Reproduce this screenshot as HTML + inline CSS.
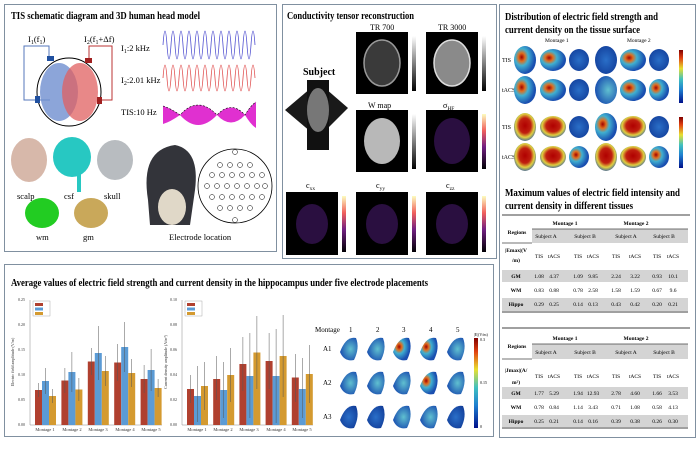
<!DOCTYPE html>
<html><head><meta charset="utf-8"><style>
html,body{margin:0;padding:0;background:#fff;width:700px;height:467px;overflow:hidden}
svg{display:block;font-family:"Liberation Serif",serif}
</style></head><body>
<svg width="700" height="467" viewBox="0 0 700 467" xmlns="http://www.w3.org/2000/svg">
<defs>
<linearGradient id="jet" x1="0" y1="1" x2="0" y2="0">
<stop offset="0" stop-color="#00108a"/><stop offset="0.25" stop-color="#1e7fd0"/><stop offset="0.45" stop-color="#40c0c0"/><stop offset="0.65" stop-color="#e8e030"/><stop offset="0.85" stop-color="#e04010"/><stop offset="1" stop-color="#800000"/></linearGradient>
<linearGradient id="gray" x1="0" y1="1" x2="0" y2="0"><stop offset="0" stop-color="#000"/><stop offset="1" stop-color="#fff"/></linearGradient>
<linearGradient id="mag" x1="0" y1="1" x2="0" y2="0"><stop offset="0" stop-color="#000004"/><stop offset="0.4" stop-color="#721f81"/><stop offset="0.7" stop-color="#f1605d"/><stop offset="1" stop-color="#fcfdbf"/></linearGradient>
<radialGradient id="brainB" cx="0.5" cy="0.5" r="0.6"><stop offset="0" stop-color="#2a6fc8"/><stop offset="1" stop-color="#123e9a"/></radialGradient>
<radialGradient id="hot" cx="0.35" cy="0.4" r="0.6"><stop offset="0" stop-color="#a00000"/><stop offset="0.25" stop-color="#e07020"/><stop offset="0.5" stop-color="#40b0d0"/><stop offset="1" stop-color="#1a4fb0"/></radialGradient>
<radialGradient id="hot2" cx="0.5" cy="0.45" r="0.6"><stop offset="0" stop-color="#b00000"/><stop offset="0.45" stop-color="#c02010"/><stop offset="0.7" stop-color="#e0d040"/><stop offset="1" stop-color="#2050b0"/></radialGradient>
<radialGradient id="hip" cx="0.6" cy="0.5" r="0.6"><stop offset="0" stop-color="#60c0d0"/><stop offset="1" stop-color="#1a50b0"/></radialGradient>
</defs>

<!-- Panel A -->
<rect x="4.5" y="4.5" width="272" height="247" fill="#fff" stroke="#8090a0" stroke-width="1"/>
<text x="11" y="19" font-size="10" font-weight="bold" textLength="189" lengthAdjust="spacingAndGlyphs">TIS schematic diagram and 3D human head model</text>
<polyline points="50,100 24,100 24,46 49,46 49,58" fill="none" stroke="#5577bb" stroke-width="1"/>
<polyline points="89,60 89,46 112,46 112,100 100,100" fill="none" stroke="#bb3333" stroke-width="1"/>
<text x="28" y="42" font-size="8.5">I<tspan font-size="6" dy="2">1</tspan><tspan dy="-2">(f</tspan><tspan font-size="6" dy="2">1</tspan><tspan dy="-2">)</tspan></text>
<text x="84" y="42" font-size="8.5">I<tspan font-size="6" dy="2">2</tspan><tspan dy="-2">(f</tspan><tspan font-size="6" dy="2">1</tspan><tspan dy="-2">+Δf)</tspan></text>
<ellipse cx="69" cy="92" rx="32" ry="34" fill="none" stroke="#000" stroke-width="1"/>
<ellipse cx="59" cy="92" rx="19" ry="29" fill="#6f8fd0" opacity="0.8"/>
<ellipse cx="80" cy="92" rx="18" ry="29" fill="#e06060" opacity="0.75"/>
<rect x="47" y="56" width="7" height="5" fill="#2050a0"/><rect x="35" y="96" width="5" height="7" fill="#2050a0"/>
<rect x="85" y="58" width="7" height="5" fill="#a02020"/><rect x="97" y="97" width="5" height="7" fill="#a02020"/>
<text x="121" y="51" font-size="8.5">I<tspan font-size="6" dy="2">1</tspan><tspan dy="-2">:2 kHz</tspan></text>
<text x="121" y="83" font-size="8.5">I<tspan font-size="6" dy="2">2</tspan><tspan dy="-2">:2.01 kHz</tspan></text>
<text x="121" y="115" font-size="8.5">TIS:10 Hz</text>
<path d="M163,45 q2,-28 4,0 t4,0 t4,0 t4,0 t4,0 t4,0 t4,0 t4,0 t4,0 t4,0 t4,0 t4,0 t4,0 t4,0 t4,0 t4,0 t4,0 t4,0 t4,0 t4,0 t4,0 t4,0 t4,0" fill="none" stroke="#5050d0" stroke-width="0.8"/>
<path d="M163,78 q2,-26 4,0 t4,0 t4,0 t4,0 t4,0 t4,0 t4,0 t4,0 t4,0 t4,0 t4,0 t4,0 t4,0 t4,0 t4,0 t4,0 t4,0 t4,0 t4,0 t4,0 t4,0 t4,0 t4,0" fill="none" stroke="#e05050" stroke-width="0.8"/>
<g fill="#e030d0">
<path d="M163,106 Q170,108 180,115 Q170,122 163,124 Z"/>
<path d="M180,115 Q198,95 217,115 Q198,135 180,115 Z"/>
<path d="M217,115 Q231,100 245,115 Q231,130 217,115 Z"/>
<path d="M245,115 Q251,105 256,102 L256,128 Q251,125 245,115 Z"/>
</g>
<path d="M163,106 Q170,108 180,115 Q198,95 217,115 Q231,100 245,115 Q251,105 256,102" fill="none" stroke="#000" stroke-dasharray="2,1.5" stroke-width="0.6"/>
<!-- head models -->
<ellipse cx="29" cy="160" rx="18" ry="22" fill="#d7b8aa"/>
<ellipse cx="72" cy="157" rx="19" ry="20" fill="#27c8c2"/><rect x="77" y="170" width="4" height="22" fill="#27c8c2"/>
<ellipse cx="115" cy="160" rx="18" ry="20" fill="#b8bcc0"/>
<text x="17" y="199" font-size="8.5">scalp</text><text x="64" y="199" font-size="8.5">csf</text><text x="104" y="199" font-size="8.5">skull</text>
<ellipse cx="42" cy="213" rx="17" ry="15" fill="#22cc22"/>
<ellipse cx="91" cy="213" rx="17" ry="15" fill="#c9a85a"/>
<text x="36" y="240" font-size="8.5">wm</text><text x="83" y="240" font-size="8.5">gm</text>
<path d="M148,200 Q140,150 175,145 Q200,150 195,190 L190,225 L150,225 Z" fill="#33343a"/>
<ellipse cx="172" cy="207" rx="14" ry="18" fill="#e0d8c8"/>
<circle cx="235" cy="186" r="37" fill="none" stroke="#000" stroke-width="0.8"/>
<g fill="none" stroke="#000" stroke-width="0.5">
<circle cx="220" cy="165" r="2.5"/><circle cx="230" cy="165" r="2.5"/><circle cx="240" cy="165" r="2.5"/><circle cx="250" cy="165" r="2.5"/>
<circle cx="212" cy="175" r="2.5"/><circle cx="222" cy="175" r="2.5"/><circle cx="232" cy="175" r="2.5"/><circle cx="242" cy="175" r="2.5"/><circle cx="252" cy="175" r="2.5"/><circle cx="262" cy="175" r="2.5"/>
<circle cx="207" cy="186" r="2.5"/><circle cx="217" cy="186" r="2.5"/><circle cx="227" cy="186" r="2.5"/><circle cx="237" cy="186" r="2.5"/><circle cx="247" cy="186" r="2.5"/><circle cx="257" cy="186" r="2.5"/><circle cx="265" cy="186" r="2.5"/>
<circle cx="212" cy="197" r="2.5"/><circle cx="222" cy="197" r="2.5"/><circle cx="232" cy="197" r="2.5"/><circle cx="242" cy="197" r="2.5"/><circle cx="252" cy="197" r="2.5"/><circle cx="262" cy="197" r="2.5"/>
<circle cx="220" cy="208" r="2.5"/><circle cx="230" cy="208" r="2.5"/><circle cx="240" cy="208" r="2.5"/><circle cx="250" cy="208" r="2.5"/>
<circle cx="235" cy="152" r="2.5"/><circle cx="235" cy="220" r="2.5"/>
</g>
<text x="169" y="240" font-size="8.5">Electrode location</text>

<!-- Panel B -->
<rect x="282.5" y="4.5" width="214" height="254" fill="#fff" stroke="#8090a0" stroke-width="1"/>
<text x="287" y="19" font-size="10" font-weight="bold" textLength="127" lengthAdjust="spacingAndGlyphs">Conductivity tensor reconstruction</text>
<text x="370" y="30" font-size="8">TR 700</text><text x="438" y="30" font-size="8">TR 3000</text>
<rect x="356" y="32" width="52" height="62" fill="#000"/><ellipse cx="382" cy="63" rx="18" ry="23" fill="#3a3a3a" stroke="#999" stroke-width="1.5"/>
<rect x="426" y="32" width="52" height="62" fill="#000"/><ellipse cx="452" cy="63" rx="18" ry="23" fill="#8a8a8a" stroke="#ddd" stroke-width="1.5"/>
<rect x="412" y="36" width="4" height="55" fill="url(#gray)"/><rect x="482" y="36" width="4" height="55" fill="url(#gray)"/>
<text x="303" y="75" font-size="10" font-weight="bold">Subject</text>
<polygon points="285,110 318,82 348,108 318,138" fill="#1a1a1a"/>
<rect x="307" y="80" width="22" height="70" fill="#111"/>
<ellipse cx="318" cy="110" rx="11" ry="22" fill="#777"/>
<text x="368" y="108" font-size="8">W map</text><text x="443" y="108" font-size="8">σ<tspan font-size="5.5" dy="2">HF</tspan></text>
<rect x="356" y="110" width="52" height="62" fill="#000"/><ellipse cx="382" cy="141" rx="18" ry="23" fill="#b8b8b8"/>
<rect x="426" y="110" width="52" height="62" fill="#000"/><ellipse cx="452" cy="141" rx="18" ry="23" fill="#2a0f40"/>
<rect x="412" y="114" width="4" height="55" fill="url(#gray)"/><rect x="482" y="114" width="4" height="55" fill="url(#mag)"/>
<text x="306" y="188" font-size="8">c<tspan font-size="5.5" dy="2">xx</tspan></text><text x="376" y="188" font-size="8">c<tspan font-size="5.5" dy="2">yy</tspan></text><text x="446" y="188" font-size="8">c<tspan font-size="5.5" dy="2">zz</tspan></text>
<rect x="286" y="192" width="52" height="63" fill="#000"/><ellipse cx="312" cy="224" rx="16" ry="20" fill="#2a0f40"/>
<rect x="356" y="192" width="52" height="63" fill="#000"/><ellipse cx="382" cy="224" rx="16" ry="20" fill="#2a0f40"/>
<rect x="426" y="192" width="52" height="63" fill="#000"/><ellipse cx="452" cy="224" rx="16" ry="20" fill="#2a0f40"/>
<rect x="342" y="196" width="4" height="56" fill="url(#mag)"/><rect x="412" y="196" width="4" height="56" fill="url(#mag)"/><rect x="482" y="196" width="4" height="56" fill="url(#mag)"/>

<!-- Panel C -->
<rect x="499.5" y="4.5" width="196" height="433" fill="#fff" stroke="#8090a0" stroke-width="1"/>
<text x="505" y="20" font-size="10" font-weight="bold" textLength="153" lengthAdjust="spacingAndGlyphs">Distribution of electric field strength and</text>
<text x="505" y="33" font-size="10" font-weight="bold" textLength="135" lengthAdjust="spacingAndGlyphs">current density on the tissue surface</text>
<text x="545" y="42" font-size="5.5">Montage 1</text><text x="627" y="42" font-size="5.5">Montage 2</text>
<text x="502" y="62" font-size="6">TIS</text><text x="502" y="92" font-size="6">tACS</text><text x="502" y="129" font-size="6">TIS</text><text x="502" y="159" font-size="6">tACS</text>
<g>
<ellipse cx="525" cy="60" rx="11" ry="14" fill="url(#hot)"/><ellipse cx="553" cy="60" rx="13" ry="11" fill="url(#hot)"/><ellipse cx="579" cy="60" rx="10" ry="11" fill="url(#brainB)"/><ellipse cx="606" cy="60" rx="11" ry="14" fill="url(#brainB)"/><ellipse cx="633" cy="60" rx="13" ry="11" fill="url(#hot)"/><ellipse cx="659" cy="60" rx="10" ry="11" fill="url(#brainB)"/>
<ellipse cx="525" cy="90" rx="11" ry="14" fill="url(#hot)"/><ellipse cx="553" cy="90" rx="13" ry="11" fill="url(#hot)"/><ellipse cx="579" cy="90" rx="10" ry="11" fill="url(#brainB)"/><ellipse cx="606" cy="90" rx="11" ry="14" fill="url(#hip)"/><ellipse cx="633" cy="90" rx="13" ry="11" fill="url(#hot)"/><ellipse cx="659" cy="90" rx="10" ry="11" fill="url(#hot)"/>
<ellipse cx="525" cy="127" rx="11" ry="14" fill="url(#hot2)"/><ellipse cx="553" cy="127" rx="13" ry="11" fill="url(#hot2)"/><ellipse cx="579" cy="127" rx="10" ry="11" fill="url(#brainB)"/><ellipse cx="606" cy="127" rx="11" ry="14" fill="url(#hot)"/><ellipse cx="633" cy="127" rx="13" ry="11" fill="url(#hot2)"/><ellipse cx="659" cy="127" rx="10" ry="11" fill="url(#brainB)"/>
<ellipse cx="525" cy="157" rx="11" ry="14" fill="url(#hot2)"/><ellipse cx="553" cy="157" rx="13" ry="11" fill="url(#hot2)"/><ellipse cx="579" cy="157" rx="10" ry="11" fill="url(#hot)"/><ellipse cx="606" cy="157" rx="11" ry="14" fill="url(#hot2)"/><ellipse cx="633" cy="157" rx="13" ry="11" fill="url(#hot2)"/><ellipse cx="659" cy="157" rx="10" ry="11" fill="url(#hot)"/>
</g>
<rect x="679" y="50" width="4" height="53" fill="url(#jet)"/><rect x="679" y="117" width="4" height="51" fill="url(#jet)"/>
<text x="505" y="196" font-size="10" font-weight="bold" textLength="175" lengthAdjust="spacingAndGlyphs">Maximum values of electric field intensity and</text>
<text x="505" y="209" font-size="10" font-weight="bold" textLength="128" lengthAdjust="spacingAndGlyphs">current density in different tissues</text>
<g font-size="5.5" text-anchor="middle">
<line x1="502" y1="215" x2="690" y2="215" stroke="#000" stroke-width="0.8"/>
<text x="565" y="225" font-weight="bold">Montage 1</text><text x="636" y="225" font-weight="bold">Montage 2</text>
<text x="517" y="234" font-weight="bold">Regions</text>
<rect x="532" y="229" width="156" height="14" fill="#d4d4d4"/><line x1="532" y1="229" x2="688" y2="229" stroke="#444" stroke-width="0.8"/><line x1="502" y1="243" x2="532" y2="243" stroke="#444" stroke-width="0.8"/>
<text x="546" y="238">Subject A</text><text x="585" y="238">Subject B</text><text x="626" y="238">Subject A</text><text x="664" y="238">Subject B</text>
<text x="516" y="252" font-weight="bold">|Emax|(V</text><text x="516" y="262" font-weight="bold">/m)</text>
<g><text x="539" y="258">TIS</text><text x="554" y="258">tACS</text><text x="578" y="258">TIS</text><text x="593" y="258">tACS</text><text x="616" y="258">TIS</text><text x="635" y="258">tACS</text><text x="657" y="258">TIS</text><text x="673" y="258">tACS</text></g>
<rect x="502" y="270" width="186" height="12" fill="#d4d4d4"/>
<text x="516" y="278" font-weight="bold">GM</text><text x="539" y="278">1.08</text><text x="554" y="278">4.37</text><text x="578" y="278">1.09</text><text x="593" y="278">9.85</text><text x="616" y="278">2.24</text><text x="635" y="278">3.22</text><text x="657" y="278">0.93</text><text x="673" y="278">10.1</text>
<text x="516" y="292" font-weight="bold">WM</text><text x="539" y="292">0.83</text><text x="554" y="292">0.88</text><text x="578" y="292">0.78</text><text x="593" y="292">2.58</text><text x="616" y="292">1.58</text><text x="635" y="292">1.59</text><text x="657" y="292">0.67</text><text x="673" y="292">9.6</text>
<rect x="502" y="298" width="186" height="13" fill="#d4d4d4"/>
<text x="516" y="306" font-weight="bold">Hippo</text><text x="539" y="306">0.29</text><text x="554" y="306">0.25</text><text x="578" y="306">0.14</text><text x="593" y="306">0.13</text><text x="616" y="306">0.43</text><text x="635" y="306">0.42</text><text x="657" y="306">0.20</text><text x="673" y="306">0.21</text>
<line x1="502" y1="312" x2="688" y2="312" stroke="#000" stroke-width="0.8"/>

<line x1="502" y1="328" x2="690" y2="328" stroke="#000" stroke-width="0.8"/>
<text x="565" y="340" font-weight="bold">Montage 1</text><text x="636" y="340" font-weight="bold">Montage 2</text>
<text x="517" y="348" font-weight="bold">Regions</text>
<rect x="532" y="344" width="156" height="15" fill="#d4d4d4"/><line x1="532" y1="344" x2="688" y2="344" stroke="#444" stroke-width="0.8"/><line x1="502" y1="359" x2="532" y2="359" stroke="#444" stroke-width="0.8"/>
<text x="546" y="354">Subject A</text><text x="585" y="354">Subject B</text><text x="626" y="354">Subject A</text><text x="664" y="354">Subject B</text>
<text x="516" y="372" font-weight="bold">|Jmax|(A/</text><text x="516" y="384" font-weight="bold">m²)</text>
<g><text x="539" y="378">TIS</text><text x="554" y="378">tACS</text><text x="578" y="378">TIS</text><text x="593" y="378">tACS</text><text x="616" y="378">TIS</text><text x="635" y="378">tACS</text><text x="657" y="378">TIS</text><text x="673" y="378">tACS</text></g>
<rect x="502" y="387" width="186" height="12" fill="#d4d4d4"/>
<text x="516" y="395" font-weight="bold">GM</text><text x="539" y="395">1.77</text><text x="554" y="395">5.29</text><text x="578" y="395">1.94</text><text x="593" y="395">12.93</text><text x="616" y="395">2.78</text><text x="635" y="395">4.60</text><text x="657" y="395">1.66</text><text x="673" y="395">3.53</text>
<text x="516" y="409" font-weight="bold">WM</text><text x="539" y="409">0.78</text><text x="554" y="409">0.84</text><text x="578" y="409">1.14</text><text x="593" y="409">3.43</text><text x="616" y="409">0.71</text><text x="635" y="409">1.08</text><text x="657" y="409">0.58</text><text x="673" y="409">4.13</text>
<rect x="502" y="415" width="186" height="12" fill="#d4d4d4"/>
<text x="516" y="423" font-weight="bold">Hippo</text><text x="539" y="423">0.25</text><text x="554" y="423">0.21</text><text x="578" y="423">0.14</text><text x="593" y="423">0.16</text><text x="616" y="423">0.39</text><text x="635" y="423">0.38</text><text x="657" y="423">0.26</text><text x="673" y="423">0.30</text>
<line x1="502" y1="428" x2="688" y2="428" stroke="#000" stroke-width="0.8"/>
</g>

<!-- Panel D -->
<rect x="4.5" y="264.5" width="489" height="172" fill="#fff" stroke="#8090a0" stroke-width="1"/>
<text x="11" y="286" font-size="10" font-weight="bold" textLength="417" lengthAdjust="spacingAndGlyphs">Average values of electric field strength and current density in the hippocampus under five electrode placements</text>
<g font-size="4" fill="#333">
<line x1="30" y1="300" x2="30" y2="425" stroke="#888" stroke-width="0.5"/><line x1="30" y1="425" x2="162" y2="425" stroke="#888" stroke-width="0.5"/>
<text x="18" y="426">0.00</text><text x="18" y="401">0.05</text><text x="18" y="376">0.10</text><text x="18" y="351">0.15</text><text x="18" y="326">0.20</text><text x="18" y="301">0.25</text>
<text x="14" y="362" transform="rotate(-90 14 362)" text-anchor="middle">Electric field amplitude (V/m)</text>
<g fill="#333" font-size="4.5" text-anchor="middle"><text x="45" y="431">Montage 1</text><text x="72" y="431">Montage 2</text><text x="98" y="431">Montage 3</text><text x="125" y="431">Montage 4</text><text x="151" y="431">Montage 5</text></g>
<line x1="182" y1="300" x2="182" y2="425" stroke="#888" stroke-width="0.5"/><line x1="182" y1="425" x2="313" y2="425" stroke="#888" stroke-width="0.5"/>
<text x="170" y="426">0.00</text><text x="170" y="401">0.02</text><text x="170" y="376">0.04</text><text x="170" y="351">0.06</text><text x="170" y="326">0.08</text><text x="170" y="301">0.10</text>
<text x="167" y="362" transform="rotate(-90 167 362)" text-anchor="middle">Current density amplitude (A/m²)</text>
<g fill="#333" font-size="4.5" text-anchor="middle"><text x="197" y="431">Montage 1</text><text x="223" y="431">Montage 2</text><text x="249" y="431">Montage 3</text><text x="276" y="431">Montage 4</text><text x="302" y="431">Montage 5</text></g>
</g>
<g>
<rect x="35" y="390" width="7" height="35" fill="#b0402f"/><rect x="42" y="381" width="7" height="44" fill="#5b9bd5"/><rect x="49" y="396" width="7" height="29" fill="#d49a30"/>
<rect x="61.4" y="380.5" width="7" height="44.5" fill="#b0402f"/><rect x="68.4" y="372" width="7" height="53" fill="#5b9bd5"/><rect x="75.4" y="389.5" width="7" height="35.5" fill="#d49a30"/>
<rect x="87.8" y="361.5" width="7" height="63.5" fill="#b0402f"/><rect x="94.8" y="353" width="7" height="72" fill="#5b9bd5"/><rect x="101.8" y="371" width="7" height="54" fill="#d49a30"/>
<rect x="114.2" y="362.5" width="7" height="62.5" fill="#b0402f"/><rect x="121.2" y="347" width="7" height="78" fill="#5b9bd5"/><rect x="128.2" y="373" width="7" height="52" fill="#d49a30"/>
<rect x="140.6" y="379" width="7" height="46" fill="#b0402f"/><rect x="147.6" y="370" width="7" height="55" fill="#5b9bd5"/><rect x="154.6" y="388" width="7" height="37" fill="#d49a30"/>
<g stroke="#555" stroke-width="0.5">
<line x1="38.5" y1="383" x2="38.5" y2="397"/><line x1="45.5" y1="368" x2="45.5" y2="394"/><line x1="52.5" y1="389" x2="52.5" y2="403"/>
<line x1="64.9" y1="368" x2="64.9" y2="393"/><line x1="71.9" y1="352" x2="71.9" y2="392"/><line x1="78.9" y1="378" x2="78.9" y2="401"/>
<line x1="91.3" y1="348" x2="91.3" y2="375"/><line x1="98.3" y1="326" x2="98.3" y2="380"/><line x1="105.3" y1="356" x2="105.3" y2="386"/>
<line x1="117.7" y1="344" x2="117.7" y2="381"/><line x1="124.7" y1="322" x2="124.7" y2="372"/><line x1="131.7" y1="359" x2="131.7" y2="387"/>
<line x1="144.1" y1="365" x2="144.1" y2="393"/><line x1="151.1" y1="349" x2="151.1" y2="391"/><line x1="158.1" y1="379" x2="158.1" y2="397"/>
</g>
<rect x="187" y="389" width="7" height="36" fill="#b0402f"/><rect x="194" y="396" width="7" height="29" fill="#5b9bd5"/><rect x="201" y="386" width="7" height="39" fill="#d49a30"/>
<rect x="213.2" y="379" width="7" height="46" fill="#b0402f"/><rect x="220.2" y="390" width="7" height="35" fill="#5b9bd5"/><rect x="227.2" y="375" width="7" height="50" fill="#d49a30"/>
<rect x="239.4" y="364" width="7" height="61" fill="#b0402f"/><rect x="246.4" y="376" width="7" height="49" fill="#5b9bd5"/><rect x="253.4" y="352.5" width="7" height="72.5" fill="#d49a30"/>
<rect x="265.6" y="361" width="7" height="64" fill="#b0402f"/><rect x="272.6" y="376" width="7" height="49" fill="#5b9bd5"/><rect x="279.6" y="356" width="7" height="69" fill="#d49a30"/>
<rect x="291.8" y="377.5" width="7" height="47.5" fill="#b0402f"/><rect x="298.8" y="389" width="7" height="36" fill="#5b9bd5"/><rect x="305.8" y="374" width="7" height="51" fill="#d49a30"/>
<g stroke="#555" stroke-width="0.5">
<line x1="190.5" y1="375" x2="190.5" y2="403"/><line x1="197.5" y1="366" x2="197.5" y2="422"/><line x1="204.5" y1="362" x2="204.5" y2="410"/>
<line x1="216.7" y1="356" x2="216.7" y2="400"/><line x1="223.7" y1="362" x2="223.7" y2="418"/><line x1="230.7" y1="348" x2="230.7" y2="402"/>
<line x1="242.9" y1="337" x2="242.9" y2="391"/><line x1="249.9" y1="333" x2="249.9" y2="418"/><line x1="256.9" y1="316" x2="256.9" y2="389"/>
<line x1="269.1" y1="333" x2="269.1" y2="389"/><line x1="276.1" y1="329" x2="276.1" y2="423"/><line x1="283.1" y1="315" x2="283.1" y2="397"/>
<line x1="295.3" y1="354" x2="295.3" y2="402"/><line x1="302.3" y1="358" x2="302.3" y2="418"/><line x1="309.3" y1="345" x2="309.3" y2="403"/>
</g>
</g>
<g font-size="4">
<rect x="33" y="301" width="17" height="15" fill="#fff" stroke="#999" stroke-width="0.4"/>
<rect x="35" y="303" width="8" height="3" fill="#b0402f"/><rect x="35" y="307.5" width="8" height="3" fill="#5b9bd5"/><rect x="35" y="312" width="8" height="3" fill="#d49a30"/>
<rect x="185" y="301" width="17" height="15" fill="#fff" stroke="#999" stroke-width="0.4"/>
<rect x="187" y="303" width="8" height="3" fill="#b0402f"/><rect x="187" y="307.5" width="8" height="3" fill="#5b9bd5"/><rect x="187" y="312" width="8" height="3" fill="#d49a30"/>
</g>
<g font-size="7">
<text x="315" y="332">Montage</text><text x="349" y="332">1</text><text x="376" y="332">2</text><text x="402" y="332">3</text><text x="429" y="332">4</text><text x="456" y="332">5</text>
<text x="323" y="351">A1</text><text x="323" y="385">A2</text><text x="323" y="419">A3</text>
</g>
<g>
<path d="M340,352 q6,-16 16,-14 q4,10 -2,22 q-10,2 -14,-8z" fill="url(#hip)"/><path d="M367,352 q6,-16 16,-14 q4,10 -2,22 q-10,2 -14,-8z" fill="url(#hip)"/><path d="M393,352 q6,-16 16,-14 q4,10 -2,22 q-10,2 -14,-8z" fill="url(#hot)"/><path d="M420,352 q6,-16 16,-14 q4,10 -2,22 q-10,2 -14,-8z" fill="url(#hot)"/><path d="M447,352 q6,-16 16,-14 q4,10 -2,22 q-10,2 -14,-8z" fill="url(#hip)"/>
<path d="M340,386 q6,-16 16,-14 q4,10 -2,22 q-10,2 -14,-8z" fill="url(#hip)"/><path d="M367,386 q6,-16 16,-14 q4,10 -2,22 q-10,2 -14,-8z" fill="url(#hip)"/><path d="M393,386 q6,-16 16,-14 q4,10 -2,22 q-10,2 -14,-8z" fill="url(#hip)"/><path d="M420,386 q6,-16 16,-14 q4,10 -2,22 q-10,2 -14,-8z" fill="url(#hot)"/><path d="M447,386 q6,-16 16,-14 q4,10 -2,22 q-10,2 -14,-8z" fill="url(#hip)"/>
<path d="M340,420 q6,-16 16,-14 q4,10 -2,22 q-10,2 -14,-8z" fill="url(#brainB)"/><path d="M367,420 q6,-16 16,-14 q4,10 -2,22 q-10,2 -14,-8z" fill="url(#brainB)"/><path d="M393,420 q6,-16 16,-14 q4,10 -2,22 q-10,2 -14,-8z" fill="url(#hip)"/><path d="M420,420 q6,-16 16,-14 q4,10 -2,22 q-10,2 -14,-8z" fill="url(#hip)"/><path d="M447,420 q6,-16 16,-14 q4,10 -2,22 q-10,2 -14,-8z" fill="url(#brainB)"/>
</g>
<rect x="474" y="338" width="4" height="90" fill="url(#jet)"/>
<g font-size="4"><text x="474" y="336">|E|(V/m)</text><text x="480" y="341">0.3</text><text x="480" y="384">0.15</text><text x="480" y="428">0</text></g>
</svg>
</body></html>
